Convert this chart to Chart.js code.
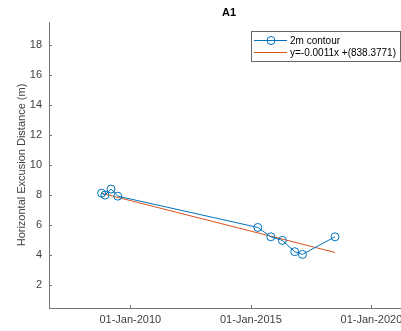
<!DOCTYPE html>
<html>
<head>
<meta charset="utf-8">
<script src="https://cdn.jsdelivr.net/npm/chart.js@4"></script>
<style>
  html, body { margin: 0; padding: 0; background: #fff; overflow: hidden; }
  #wrap { width: 420px; height: 331px; }
</style>
</head>
<body>
<div id="wrap"><canvas id="chart" width="420" height="331"></canvas></div>
<script>
// survey dates and the 2m contour excursion
const surveyDates = ["2008-10-23", "2008-12-12", "2009-03-14", "2009-06-25", "2015-04-16",
                     "2015-10-30", "2016-04-22", "2016-10-26", "2017-02-20", "2018-06-28"];
const excursion = [8.13, 8.0, 8.4, 7.93, 5.85, 5.23, 4.99, 4.24, 4.06, 5.23];
// linear fit, first and last survey
const fitDates = ["2008-10-23", "2018-06-28"];
const fitValues = [8.12, 4.19];
const tickYears = [2010, 2015, 2020];
const yTicks = [2, 4, 6, 8, 10, 12, 14, 16, 18];
const seriesLabels = ["2m contour", "y=-0.0011x +(838.3771)"];

const FONT = "'Liberation Sans', Arial, sans-serif";
const BLUE = "#0072BD";
const ORANGE = "#D95319";
const AXIS = "#777777";
const TEXT = "#404040";
const months = ["Jan","Feb","Mar","Apr","May","Jun","Jul","Aug","Sep","Oct","Nov","Dec"];

function toMs(s) { return Date.parse(s + "T00:00:00Z"); }

// matlab style: inward ticks, title over axes, boxed legend
const matlabDecor = {
  id: "matlabDecor",
  afterDraw(chart) {
    const ctx = chart.ctx;
    const a = chart.chartArea;
    const xs = chart.scales.x, ys = chart.scales.y;
    ctx.save();
    ctx.strokeStyle = AXIS;
    ctx.lineWidth = 1;
    ctx.beginPath();
    xs.ticks.forEach(t => {
      const px = Math.round(xs.getPixelForValue(t.value)) + 0.5;
      ctx.moveTo(px, a.bottom); ctx.lineTo(px, a.bottom - 3);
    });
    ys.ticks.forEach(t => {
      const py = Math.round(ys.getPixelForValue(t.value)) + 0.5;
      ctx.moveTo(a.left, py); ctx.lineTo(a.left + 3, py);
    });
    ctx.stroke();

    // title
    ctx.fillStyle = "#000";
    ctx.font = "bold 11px " + FONT;
    ctx.textAlign = "center";
    ctx.textBaseline = "middle";
    ctx.fillText("A1", (a.left + a.right) / 2, 13);

    // legend
    const bx = a.right - 158, by = a.top + 9, bw = 149, bh = 30;
    ctx.fillStyle = "#fff";
    ctx.fillRect(bx, by, bw, bh);
    ctx.strokeStyle = "#666";
    ctx.strokeRect(bx + 0.5, by + 0.5, bw, bh);
    ctx.font = "10px " + FONT;
    ctx.textAlign = "left";
    const rows = [by + 9, by + 21];
    chart.data.datasets.forEach((ds, i) => {
      ctx.strokeStyle = ds.borderColor;
      ctx.lineWidth = 1;
      ctx.beginPath();
      ctx.moveTo(bx + 3, rows[i] + 0.5); ctx.lineTo(bx + 36, rows[i] + 0.5);
      ctx.stroke();
      if (ds.pointRadius > 0) {
        ctx.beginPath();
        ctx.arc(bx + 20, rows[i] + 0.5, ds.pointRadius, 0, Math.PI * 2);
        ctx.stroke();
      }
      ctx.fillStyle = "#000";
      ctx.fillText(ds.label, bx + 39, rows[i] + 1);
    });
    ctx.restore();
  }
};

let config = {
  type: "line",
  data: {
    datasets: [
      {
        label: seriesLabels[0],
        data: surveyDates.map((d, i) => ({ x: toMs(d), y: excursion[i] })),
        borderColor: BLUE,
        borderWidth: 1,
        pointStyle: "circle",
        pointRadius: 4,
        pointBorderWidth: 1,
        pointBorderColor: BLUE,
        pointBackgroundColor: "rgba(0,0,0,0)",
        tension: 0,
      },
      {
        label: seriesLabels[1],
        data: fitDates.map((d, i) => ({ x: toMs(d), y: fitValues[i] })),
        borderColor: ORANGE,
        borderWidth: 1,
        pointRadius: 0,
        tension: 0,
      },
    ],
  },
  options: {
    responsive: false,
    animation: false,
    layout: { padding: { top: 22, right: 11, left: 0, bottom: 0 } },
    plugins: {
      legend: { display: false },
      title: { display: false },
      tooltip: { enabled: false },
    },
    scales: {
      x: {
        type: "linear",
        min: toMs("2006-08-18"),
        max: toMs("2021-07-23"),
        afterBuildTicks: (scale) => {
          scale.ticks = tickYears.map(y => ({ value: Date.UTC(y, 0, 1) }));
        },
        afterFit: (scale) => { scale.height = 23; },
        ticks: {
          color: TEXT,
          font: { family: FONT, size: 11 },
          padding: 5,
          maxRotation: 0,
          autoSkip: false,
          callback: (v) => {
            const d = new Date(v);
            return String(d.getUTCDate()).padStart(2, "0") + "-" + months[d.getUTCMonth()] + "-" + d.getUTCFullYear();
          },
        },
        grid: { drawOnChartArea: false, drawTicks: false },
        border: { color: AXIS },
      },
      y: {
        min: 0.5,
        max: 19.5,
        afterBuildTicks: (scale) => {
          scale.ticks = yTicks.map(v => ({ value: v }));
        },
        afterFit: (scale) => { scale.width = 49; },
        ticks: {
          color: TEXT,
          font: { family: FONT, size: 11 },
          padding: 7,
        },
        grid: { drawOnChartArea: false, drawTicks: false },
        border: { color: AXIS },
        title: {
          display: true,
          text: "Horizontal Excusion Distance (m)",
          color: TEXT,
          font: { family: FONT, size: 11 },
          padding: { top: 15, bottom: 0 },
        },
      },
    },
  },
  plugins: [matlabDecor],
};

var chart = new Chart(document.getElementById("chart"), config);
</script>
</body>
</html>
